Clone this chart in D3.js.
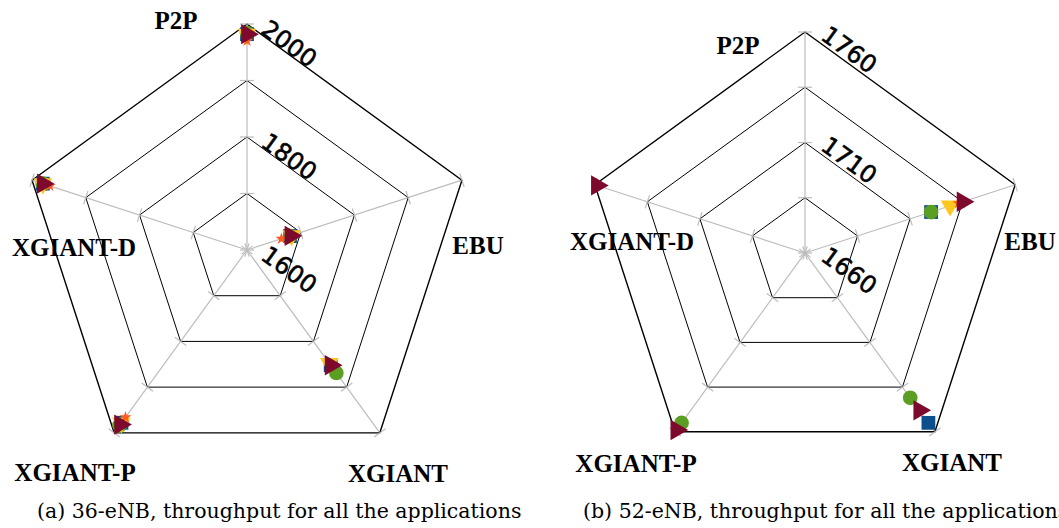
<!DOCTYPE html>
<html>
<head>
<meta charset="utf-8">
<script src="https://cdn.jsdelivr.net/npm/d3@7"></script>
<style>
  html, body { margin: 0; padding: 0; background: #fff; }
  svg { display: block; }
</style>
</head>
<body>
<svg id="chart" width="1059" height="528"></svg>
<script>
// Axes of each radar, clockwise from the top
const axes = ["P2P", "EBU", "XGIANT", "XGIANT-P", "XGIANT-D"];

// Panel (a): 36 eNB
const domainA = [1600, 2000];
const ringsA = [1700, 1800, 1900, 2000];
const tickLabelsA = [1600, 1800, 2000];
const squareA   = [1982, 1680, 1852, 1978, 1980];
const circleA   = [1984, 1680, 1869, 1984, 1980];
const triDownA  = [1982, 1683, 1848, 1978, 1980];
const triRightA = [1982, 1681, 1852, 1982, 1980];
const starA     = [1970, 1664, 1853, 1966, 1967];

// Panel (b): 52 eNB (null = outside the plotted range)
const domainB = [1660, 1760];
const ringsB = [1685, 1710, 1735, 1760];
const tickLabelsB = [1660, 1710, 1760];
const squareB   = [null, 1720, 1755, null, null];
const circleB   = [null, 1720, 1741, 1755, null];
const triDownB  = [null, 1729, null, null, null];
const triRightB = [null, 1735, 1748, 1759, 1759];
const starB     = [null, 1733, null, null, null];

const captions = [
  "(a) 36-eNB, throughput for all the applications",
  "(b) 52-eNB, throughput for all the applications"
];

const colors = {
  square: "#0b4f8c",
  circle: "#5a9e23",
  triDown: "#ffc61e",
  triRight: "#7d0a2c",
  star: "#ff5a1f"
};

const svg = d3.select("#chart");

function drawRadar(cfg) {
  const g = svg.append("g").attr("transform", `translate(${cfg.cx},${cfg.cy})`);
  const r = d3.scaleLinear().domain(cfg.domain).range([0, cfg.R]);
  const angle = i => (i * 2 * Math.PI) / axes.length; // 0 = up, clockwise
  const pt = (i, v) => [Math.sin(angle(i)) * r(v), -Math.cos(angle(i)) * r(v)];

  // spokes
  axes.forEach((a, i) => {
    const [x, y] = pt(i, cfg.domain[1]);
    g.append("line").attr("x1", 0).attr("y1", 0).attr("x2", x).attr("y2", y)
      .attr("stroke", "#bdbdbd").attr("stroke-width", 1.2);
  });

  // rings
  cfg.rings.forEach((v, k) => {
    const pts = axes.map((a, i) => pt(i, v));
    g.append("polygon")
      .attr("points", pts.map(p => p.join(",")).join(" "))
      .attr("fill", "none")
      .attr("stroke", "#000")
      .attr("stroke-width", k === cfg.rings.length - 1 ? 1.4 : 1);
  });

  // small tick marks across each spoke at every level (including centre)
  const levels = [cfg.domain[0]].concat(cfg.rings);
  axes.forEach((a, i) => {
    const t = angle(i);
    const px = Math.cos(t), py = Math.sin(t); // perpendicular direction
    levels.forEach(v => {
      const [x, y] = pt(i, v);
      g.append("line")
        .attr("x1", x - px * 7).attr("y1", y - py * 7)
        .attr("x2", x + px * 7).attr("y2", y + py * 7)
        .attr("stroke", "#bdbdbd").attr("stroke-width", 1.2);
    });
  });

  // radial value labels, tilted along the upper-right edge
  cfg.tickLabels.forEach(v => {
    const y = -r(v) + cfg.labelDy;
    g.append("text")
      .attr("transform", `translate(${cfg.labelDx},${y}) rotate(36)`)
      .attr("text-anchor", "middle")
      .attr("dominant-baseline", "central")
      .attr("font-family", "DejaVu Sans, sans-serif")
      .attr("font-size", 24)
      .attr("stroke", "#000")
      .attr("stroke-width", 0.6)
      .text(v);
  });

  // axis names
  axes.forEach((a, i) => {
    const [dx, dy] = cfg.axisLabelPos[i];
    g.append("text")
      .attr("x", dx).attr("y", dy)
      .attr("text-anchor", "middle")
      .attr("dominant-baseline", "central")
      .attr("font-family", "Liberation Serif, Times New Roman, serif")
      .attr("font-weight", "bold")
      .attr("font-size", 25)
      .text(a);
  });

  // markers
  const shapes = [
    { key: "square",   data: cfg.square,   sym: d3.symbolSquare,   size: 190, rot: 0 },
    { key: "circle",   data: cfg.circle,   sym: d3.symbolCircle,   size: 170, rot: 0 },
    { key: "triDown",  data: cfg.triDown,  sym: d3.symbolTriangle, size: 150, rot: 180 },
    { key: "star",     data: cfg.star,     sym: d3.symbolStar,     size: 45,  rot: 0 },
    { key: "triRight", data: cfg.triRight, sym: d3.symbolTriangle, size: 180, rot: 90 }
  ];
  shapes.forEach(s => {
    s.data.forEach((v, i) => {
      if (v == null) return;
      const [x, y] = pt(i, v);
      g.append("path")
        .attr("d", d3.symbol().type(s.sym).size(s.size)())
        .attr("transform", `translate(${x},${y}) rotate(${s.rot})`)
        .attr("fill", colors[s.key]);
    });
  });

  svg.append("text")
    .attr("x", cfg.captionX).attr("y", 518)
    .attr("font-family", "DejaVu Serif, serif")
    .attr("font-size", 20.5)
    .text(cfg.caption);
}

drawRadar({
  cx: 247, cy: 250, R: 226,
  domain: domainA, rings: ringsA, tickLabels: tickLabelsA,
  labelDx: 42, labelDy: 20,
  axisLabelPos: [[-71, -230], [231, -5], [151, 223], [-172, 222], [-173, -3]],
  square: squareA, circle: circleA, triDown: triDownA, triRight: triRightA, star: starA,
  caption: captions[0], captionX: 37
});

drawRadar({
  cx: 805, cy: 253, R: 221,
  domain: domainB, rings: ringsB, tickLabels: tickLabelsB,
  labelDx: 44, labelDy: 18,
  axisLabelPos: [[-67, -208], [225, -12], [147, 209], [-169, 210], [-173, -12]],
  square: squareB, circle: circleB, triDown: triDownB, triRight: triRightB, star: starB,
  caption: captions[1], captionX: 583
});
</script>
</body>
</html>
